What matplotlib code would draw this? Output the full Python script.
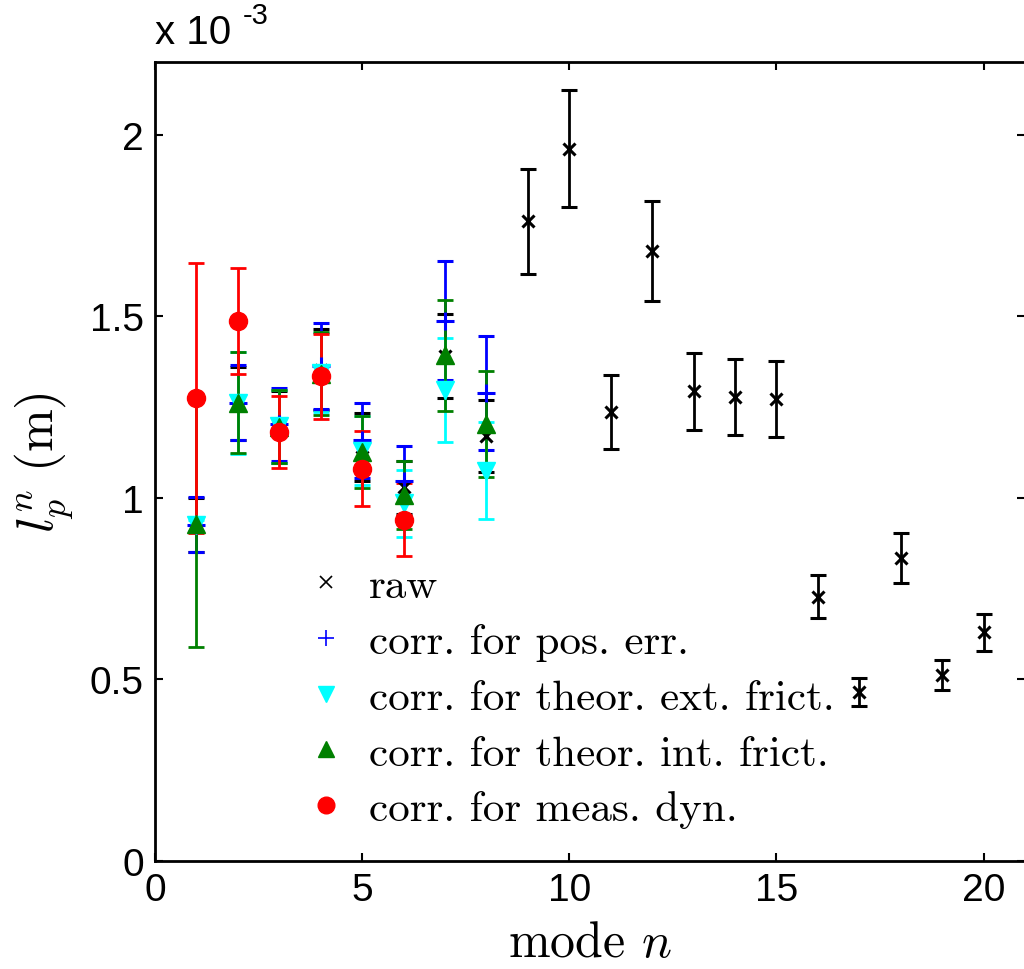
import matplotlib
matplotlib.use("Agg")
import matplotlib.pyplot as plt
from matplotlib.lines import Line2D

plt.rcParams['mathtext.fontset'] = 'cm'
plt.rcParams['font.family'] = ['Liberation Sans', 'DejaVu Sans']

# values in units of 1e-3 m
modes_raw = list(range(1, 21))
raw_val = [0.925, 1.26, 1.195, 1.353, 1.14, 1.029, 1.39, 1.170, 1.761, 1.961,
           1.236, 1.679, 1.293, 1.277, 1.273, 0.728, 0.466, 0.834, 0.512, 0.630]
raw_err = [0.075, 0.10, 0.10, 0.112, 0.094, 0.073, 0.115, 0.098, 0.145, 0.161,
           0.102, 0.138, 0.106, 0.105, 0.105, 0.060, 0.038, 0.069, 0.041, 0.051]

modes_corr = list(range(1, 9))
pos_val = [0.926, 1.262, 1.202, 1.362, 1.158, 1.045, 1.488, 1.288]
pos_err = [0.076, 0.104, 0.100, 0.118, 0.103, 0.097, 0.163, 0.157]

ext_val = [0.925, 1.262, 1.197, 1.345, 1.130, 0.985, 1.298, 1.075]
ext_err = [0.015, 0.140, 0.100, 0.110, 0.095, 0.092, 0.143, 0.133]

int_val = [0.928, 1.262, 1.196, 1.342, 1.126, 1.008, 1.392, 1.203]
int_err = [0.338, 0.139, 0.100, 0.115, 0.100, 0.094, 0.153, 0.147]

modes_dyn = list(range(1, 7))
dyn_val = [1.275, 1.486, 1.181, 1.335, 1.080, 0.940]
dyn_err = [0.372, 0.146, 0.100, 0.117, 0.103, 0.100]

labels = ["raw", "corr. for pos. err.", "corr. for theor. ext. frict.",
          "corr. for theor. int. frict.", "corr. for meas. dyn."]
xticks = [0, 5, 10, 15, 20]
yticks = [0, 0.5, 1, 1.5, 2]
ytick_labels = ["0", "0.5", "1", "1.5", "2"]

fig = plt.figure(figsize=(10.24, 9.70), dpi=100)
ax = fig.add_axes([155/1024, 108/970, 870/1024, 799/970])

lw = 2.0
cs = 6
ax.errorbar(modes_raw, raw_val, yerr=raw_err, fmt='x', color='black', ms=8, mew=2.2,
            elinewidth=lw, capsize=cs, capthick=lw)
ax.errorbar(modes_corr, pos_val, yerr=pos_err, fmt='+', color='blue', ms=13, mew=2.2,
            elinewidth=lw, capsize=cs, capthick=lw)
ax.errorbar(modes_corr, ext_val, yerr=ext_err, fmt='v', color='cyan', ms=12.5,
            elinewidth=lw, capsize=cs, capthick=lw)
ax.errorbar(modes_corr, int_val, yerr=int_err, fmt='^', color='green', ms=12.5,
            elinewidth=lw, capsize=cs, capthick=lw)
ax.errorbar(modes_dyn, dyn_val, yerr=dyn_err, fmt='o', color='red', ms=13,
            elinewidth=lw, capsize=cs, capthick=lw)

ax.set_xlim(0, 21)
ax.set_ylim(0, 2.2)
ax.set_xticks(xticks)
ax.set_yticks(yticks)
ax.set_yticklabels(ytick_labels)
ax.tick_params(direction='in', length=6, width=1.5, top=True, right=True,
               labelsize=28, pad=8)
for s in ax.spines.values():
    s.set_linewidth(2)

ax.set_xlabel(r"mode $n$", family='cmr10', fontsize=36, labelpad=9)
ax.set_ylabel(r"$l_p^n\ (\mathrm{m})$", fontsize=37, labelpad=10)

fig.text(155/1024, 918/970, "x 10", fontsize=29, ha='left', va='bottom')
fig.text(243/1024, 940/970, "-3", fontsize=21, ha='left', va='bottom')

handles = [
    Line2D([], [], ls='none', marker='x', color='black', ms=8, mew=1.2),
    Line2D([], [], ls='none', marker='+', color='blue', ms=12, mew=1.2),
    Line2D([], [], ls='none', marker='v', color='cyan', ms=12),
    Line2D([], [], ls='none', marker='^', color='green', ms=12),
    Line2D([], [], ls='none', marker='o', color='red', ms=12),
]
ax.legend(handles, labels, loc='upper left', bbox_to_anchor=((304-155)/870, (862-568)/799),
          frameon=False, prop={'family': 'cmr10', 'size': 31}, handlelength=1.0,
          handletextpad=0.5, borderpad=0, borderaxespad=0, labelspacing=0.41)

fig.savefig("out.png", dpi=100)
